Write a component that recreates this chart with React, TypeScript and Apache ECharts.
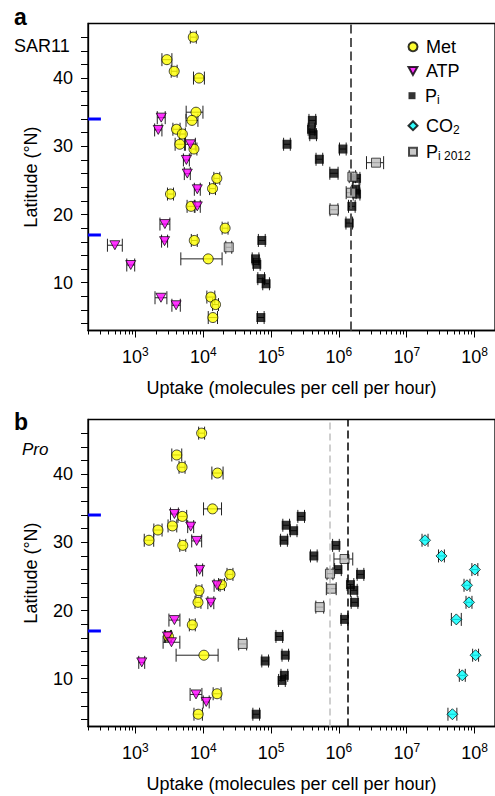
import React, { useEffect, useRef } from 'react';
import * as echarts from 'echarts';

// Each point: [uptake, latitude, errLow, errHigh]
// Panel a (SAR11)
const metA = [
  [7130, 46.0, 6450, 7900], [2910, 42.7, 2460, 3450], [3730, 41.0, 3370, 4120], [8650, 40.0, 7180, 10400],
  [7820, 35.0, 5600, 9900], [6820, 33.8, 5570, 8350], [4030, 32.5, 3570, 4550], [4920, 31.8, 4450, 5440],
  [4510, 30.3, 3850, 5280], [7290, 29.6, 6600, 8060], [15850, 25.3, 14330, 17530], [13700, 23.8, 12390, 15150],
  [3290, 23.0, 2970, 3640], [6610, 21.2, 5780, 7560], [21000, 18.0, 19000, 23200], [7380, 16.2, 6670, 8160],
  [11830, 13.5, 4670, 18960], [12940, 7.9, 11310, 14800], [15170, 6.8, 13720, 16780], [13870, 4.9, 11850, 16230],
];
const atpA = [
  [2400, 34.2, 2100, 2750], [2170, 32.4, 1920, 2460], [6460, 30.3, 5460, 7650], [5640, 28.0, 5100, 6240],
  [5820, 26.0, 5260, 6440], [8170, 23.7, 7390, 9040], [8170, 21.2, 7390, 9040], [2720, 18.6, 2300, 3220],
  [2690, 16.1, 2430, 2980], [498, 15.5, 387, 641], [853, 12.6, 746, 976], [2380, 7.8, 1945, 2910],
  [3980, 6.7, 3450, 4590],
];
const piA = [
  [406000, 33.8, 362000, 455000], [394000, 32.5, 352000, 441000], [417000, 31.7, 372000, 467000],
  [171800, 30.3, 153000, 192000], [1146000, 29.6, 1020000, 1280000], [515000, 28.1, 460000, 577000],
  [845000, 26.05, 735000, 972000], [1820000, 25.3, 1625000, 2040000], [1770000, 23.7, 1580000, 1980000],
  [1820000, 23.0, 1625000, 2040000], [1550000, 21.2, 1385000, 1735000], [1420000, 18.75, 1270000, 1590000],
  [73000, 16.2, 65000, 82000], [59000, 13.5, 52700, 66100], [61600, 12.7, 55000, 69000],
  [71400, 10.6, 63800, 80000], [84500, 9.85, 75400, 94600], [70600, 4.9, 63000, 79000],
];
const pi2012A = [
  [23770, 15.2, 21500, 26300], [3520000, 27.6, 2550000, 4560000], [1580000, 25.55, 1420000, 1760000],
  [1510000, 23.2, 1280000, 1790000], [845000, 20.7, 740000, 966000],
];
const medianA = 1500000;

// Panel b (Pro)
const metB = [
  [9470, 46.0, 8560, 10470], [4070, 42.8, 3440, 4820], [4870, 41.0, 4400, 5390], [16220, 40.15, 13400, 19600],
  [13700, 34.9, 10100, 18600], [4920, 33.8, 4240, 5700], [3510, 32.4, 3030, 4070], [2150, 31.8, 1870, 2470],
  [1585, 30.3, 1350, 1860], [4990, 29.55, 4510, 5520], [24800, 25.3, 22400, 27400], [18580, 23.8, 16800, 20550],
  [8650, 22.9, 7820, 9570], [8360, 21.2, 7560, 9250], [6900, 17.9, 6240, 7630], [3070, 16.2, 2780, 3400],
  [10230, 13.45, 3980, 16560], [16000, 7.8, 14000, 18300], [8430, 4.8, 7300, 9720],
];
const atpB = [
  [3760, 34.15, 3290, 4300], [6530, 32.3, 5900, 7220], [8000, 30.2, 6760, 9470], [8850, 25.95, 8000, 9790],
  [16000, 23.7, 14470, 17700], [12940, 21.15, 11700, 14310], [3760, 18.6, 3120, 4530], [2970, 16.2, 2690, 3280],
  [3400, 15.35, 2560, 4520], [1240, 12.4, 1120, 1370], [7820, 7.7, 6400, 9560], [11070, 6.6, 10000, 12240],
];
const piB = [
  [278000, 33.8, 248000, 311000], [167000, 32.5, 149000, 187000], [215000, 31.7, 192000, 241000],
  [155000, 30.3, 138000, 174000], [904000, 29.55, 807000, 1012000], [427000, 28.0, 381000, 478000],
  [968000, 26.0, 864000, 1084000], [2080000, 25.3, 1857000, 2330000], [1480000, 23.8, 1321000, 1658000],
  [1660000, 22.96, 1482000, 1859000], [1700000, 21.2, 1518000, 1904000], [1210000, 18.7, 1080000, 1355000],
  [132000, 16.2, 118000, 148000], [81800, 12.6, 73000, 91600], [162000, 13.45, 145000, 181000],
  [157000, 10.5, 140000, 176000], [145000, 9.75, 129000, 162000], [60400, 4.8, 53900, 67600],
];
const pi2012B = [
  [38100, 15.1, 33300, 43600], [1210000, 27.55, 845000, 1600000], [738000, 25.4, 668000, 816000],
  [771000, 23.2, 652000, 912000], [522000, 20.5, 457000, 596000],
];
const co2B = [
  [18600000, 30.3, 16800000, 20600000], [32500000, 28.0, 29400000, 35900000],
  [101000000, 26.0, 91300000, 111700000], [77300000, 23.7, 69900000, 85500000],
  [82700000, 21.2, 74800000, 91500000], [53800000, 18.7, 45500000, 63700000],
  [103500000, 13.45, 93600000, 114500000], [65900000, 10.5, 59600000, 72900000],
  [47100000, 4.8, 40500000, 54800000],
];
const medianPiB = 1350000;
const medianPi2012B = 740000;

const tropicLats = [34, 17];
const tropicEnd = 310;

const xMin = 200;
const xMax = 200000000;
const xTickLabels = [1e3, 1e4, 1e5, 1e6, 1e7, 1e8];
const xMinorTicks: number[] = [];
for (let d = 100; d <= 1e8; d *= 10) {
  for (let m = 2; m <= 9; m++) {
    const v = d * m;
    if (v >= xMin && v <= xMax) xMinorTicks.push(v);
  }
}
const yMin = 3;
const yMax = 48;
const yTickLabels = [10, 20, 30, 40];
const yTicks = [4, 6, 8, 10, 12, 14, 16, 18, 20, 22, 24, 26, 28, 30, 32, 34, 36, 38, 40, 42, 44, 46];

const FONT = '"Liberation Sans", Arial, Helvetica, sans-serif';

const symbols: Record<string, any> = {
  Met: { symbol: 'circle', symbolSize: 10, itemStyle: { color: '#ffff00', borderColor: '#000', borderWidth: 0.9 } },
  ATP: { symbol: 'path://M0,0L10,0L5,9Z', symbolSize: [10, 9], itemStyle: { color: '#ff00ff', borderColor: '#000', borderWidth: 0.9 } },
  Pi: { symbol: 'rect', symbolSize: 9, itemStyle: { color: '#000' } },
  CO2: { symbol: 'diamond', symbolSize: 11, itemStyle: { color: '#00ffff', borderColor: '#000', borderWidth: 0.9 } },
  Pi2012: { symbol: 'rect', symbolSize: 9, itemStyle: { color: '#bbbbbb', borderColor: '#222', borderWidth: 1 } },
};

const errRender = (params: any, api: any) => {
  const y = api.value(1);
  const p1 = api.coord([api.value(0), y]);
  const p2 = api.coord([api.value(2), y]);
  const h = 6.5;
  const style = { stroke: '#222', lineWidth: 1, fill: 'none' };
  return {
    type: 'group',
    children: [
      { type: 'line', shape: { x1: p1[0], y1: p1[1], x2: p2[0], y2: p2[1] }, style },
      { type: 'line', shape: { x1: p1[0], y1: p1[1] - h, x2: p1[0], y2: p1[1] + h }, style },
      { type: 'line', shape: { x1: p2[0], y1: p2[1] - h, x2: p2[0], y2: p2[1] + h }, style },
    ],
  };
};

function scatter(name: string, arr: number[][], xi: number, yi: number, extra: any = {}) {
  return {
    type: 'scatter', name, xAxisIndex: xi, yAxisIndex: yi, silent: true, z: 3,
    data: arr.map((d) => [d[0], d[1]]),
    ...symbols[name],
    ...extra,
  };
}

function errSeries(id: string, sets: number[][][], xi: number, yi: number) {
  const data: number[][] = [];
  sets.forEach((s) => s.forEach((d) => data.push([d[2], d[1], d[3]])));
  return {
    type: 'custom', name: id, xAxisIndex: xi, yAxisIndex: yi, silent: true, z: 2,
    encode: { x: [0, 2], y: 1 }, data, renderItem: errRender,
  };
}

function tropicSeries(id: string, xi: number, yi: number) {
  return tropicLats.map((lat, i) => ({
    type: 'line', name: id + i, xAxisIndex: xi, yAxisIndex: yi, silent: true, z: 4,
    symbol: 'none', data: [[xMin, lat], [tropicEnd, lat]],
    lineStyle: { color: '#0000ff', width: 3, cap: 'butt' },
  }));
}

function markV(value: number, color: string, width: number, dash: number[]) {
  return {
    symbol: 'none', silent: true, label: { show: false },
    lineStyle: { color, width, type: dash },
    data: [{ xAxis: value }],
  };
}

const labelFor = (name: string) => {
  if (name === 'Pi') return 'P{sub|i}';
  if (name === 'CO2') return 'CO{sub|2}';
  if (name === 'Pi2012') return 'P{sub|i 2012}';
  return name;
};

const legendItems = [
  { name: 'Met', cy: 46.7, w: 9, h: 9 },
  { name: 'ATP', cy: 71, w: 9, h: 8 },
  { name: 'Pi', cy: 95.7, w: 7, h: 7 },
  { name: 'CO2', cy: 125.7, w: 9, h: 9 },
  { name: 'Pi2012', cy: 151.7, w: 8, h: 8 },
];

function xAxes(gi: number) {
  return [
    {
      type: 'log', gridIndex: gi, min: xMin, max: xMax, position: 'bottom',
      axisLine: { show: true, onZero: false, lineStyle: { color: '#000', width: 1.3 } },
      axisTick: { show: true, customValues: xTickLabels, length: 7, lineStyle: { color: '#000', width: 1 } },
      axisLabel: {
        customValues: xTickLabels, margin: 15, color: '#000', fontSize: 18, lineHeight: 22, fontFamily: FONT,
        formatter: (v: number) => '10{sup|' + Math.round(Math.log10(v)) + '}',
        rich: { sup: { fontSize: 12, lineHeight: 12, verticalAlign: 'top', fontFamily: FONT, color: '#000' } },
      },
      splitLine: { show: false },
      name: 'Uptake (molecules per cell per hour)', nameLocation: 'middle', nameGap: 48,
      nameTextStyle: { fontSize: 18, color: '#000', fontFamily: FONT },
    },
    {
      type: 'log', gridIndex: gi, min: xMin, max: xMax, position: 'bottom',
      axisLine: { show: false, onZero: false },
      axisTick: { show: true, customValues: xMinorTicks, length: 4, lineStyle: { color: '#000', width: 1 } },
      axisLabel: { show: false },
      splitLine: { show: false },
    },
  ];
}

function yAxis(gi: number) {
  return {
    type: 'value', gridIndex: gi, min: yMin, max: yMax,
    axisLine: { show: true, onZero: false, lineStyle: { color: '#000', width: 1.3 } },
    axisTick: { show: true, customValues: yTicks, length: 7, lineStyle: { color: '#000', width: 1 } },
    axisLabel: { customValues: yTickLabels, margin: 15, color: '#000', fontSize: 18, fontFamily: FONT },
    splitLine: { show: false },
    name: 'Latitude (°N)', nameLocation: 'middle', nameGap: 48,
    nameTextStyle: { fontSize: 18, color: '#000', fontFamily: FONT },
  };
}

export default function App() {
  const ref = useRef<HTMLDivElement>(null);
  useEffect(() => {
    if (!ref.current) return;
    const chart = echarts.init(ref.current, undefined, { renderer: 'svg' });
    const option: any = {
      animation: false,
      textStyle: { fontFamily: FONT },
      grid: [
        { left: 88, top: 23.5, right: -3, height: 307, show: true, borderColor: '#000', borderWidth: 1.3, backgroundColor: 'transparent' },
        { left: 88, top: 419.5, right: -3, height: 307, show: true, borderColor: '#000', borderWidth: 1.3, backgroundColor: 'transparent' },
      ],
      xAxis: [...xAxes(0), ...xAxes(1)],
      yAxis: [yAxis(0), yAxis(1)],
      legend: legendItems.map((it) => ({
        data: [it.name], left: 412 - it.w / 2, top: it.cy - 10, orient: 'vertical', padding: 0,
        itemWidth: it.w, itemHeight: it.h, itemGap: 0, selectedMode: false,
        formatter: labelFor,
        textStyle: {
          fontSize: 18, lineHeight: 20, color: '#000', fontFamily: FONT,
          padding: [0, 0, 0, Math.max(0, 425 - (412 + it.w / 2 + 5))],
          rich: { sub: { fontSize: 12, lineHeight: 12, verticalAlign: 'bottom', fontFamily: FONT, color: '#000' } },
        },
      })),
      graphic: [
        { type: 'text', left: 14, top: 5.5, style: { text: 'a', fontSize: 23, fontWeight: 'bold', fontFamily: FONT, fill: '#000' } },
        { type: 'text', left: 14, top: 36.5, style: { text: 'SAR11', fontSize: 18, fontFamily: FONT, fill: '#000' } },
        { type: 'text', left: 14, top: 410.5, style: { text: 'b', fontSize: 23, fontWeight: 'bold', fontFamily: FONT, fill: '#000' } },
        { type: 'text', left: 22, top: 440.6, style: { text: 'Pro', fontSize: 17, fontStyle: 'italic', fontFamily: FONT, fill: '#000' } },
      ],
      series: [
        errSeries('err-a', [metA, atpA, piA, pi2012A], 0, 0),
        scatter('Met', metA, 0, 0),
        scatter('ATP', atpA, 0, 0),
        scatter('Pi', piA, 0, 0, { markLine: markV(medianA, '#555', 2, [9, 4.5]) }),
        scatter('Pi2012', pi2012A, 0, 0),
        ...tropicSeries('tropic-a', 0, 0),
        errSeries('err-b', [metB, atpB, piB, pi2012B, co2B], 2, 1),
        scatter('Met', metB, 2, 1),
        scatter('ATP', atpB, 2, 1),
        scatter('Pi', piB, 2, 1, { markLine: markV(medianPiB, '#000', 1.5, [8, 4]) }),
        scatter('CO2', co2B, 2, 1),
        scatter('Pi2012', pi2012B, 2, 1, { markLine: markV(medianPi2012B, '#c0c0c0', 1.5, [7, 4]) }),
        ...tropicSeries('tropic-b', 2, 1),
      ],
    };
    chart.setOption(option);
    return () => chart.dispose();
  }, []);
  return <div ref={ref} style={{ position: 'absolute', left: 0, top: 0, width: 495, height: 796 }} />;
}
